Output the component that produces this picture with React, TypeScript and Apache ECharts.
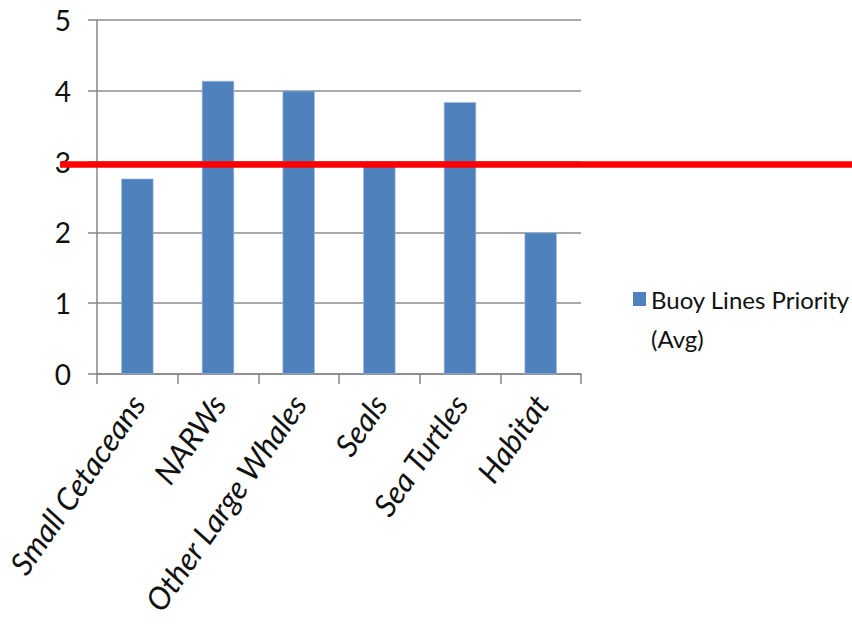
import React, { useEffect, useRef } from "react";
import * as echarts from "echarts";

const categories = ["Small Cetaceans", "NARWs", "Other Large Whales", "Seals", "Sea Turtles", "Habitat"];
const values = [2.76, 4.14, 4.0, 2.95, 3.84, 2.0];
const seriesName = "Buoy Lines Priority (Avg)";
const legendLines = ["Buoy Lines Priority", "(Avg)"];
const thresholdValue = 2.96;
const yTicks = { min: 0, max: 5, interval: 1 };

const FONT = "Lato, 'Open Sans', sans-serif";
const BAR_COLOR = "#4f81bd";

export default function App() {
  const ref = useRef<HTMLDivElement>(null);
  useEffect(() => {
    if (!ref.current) return;
    const chart = echarts.init(ref.current, null, { renderer: "svg" });
    chart.setOption({
      animation: false,
      backgroundColor: "#ffffff",
      grid: {
        left: 97,
        right: 271,
        top: 20,
        bottom: 256,
        containLabel: false,
        outerBoundsMode: "none",
      },
      legend: {
        show: true,
        left: 622,
        top: 282,
        orient: "vertical",
        icon: "rect",
        itemWidth: 0.01,
        itemHeight: 0.01,
        itemStyle: { opacity: 0 },
        formatter: () => `{sq|}{t|${legendLines[0]}}\n{t2|${legendLines[1]}}`,
        textStyle: {
          fontFamily: FONT,
          fontSize: 24,
          color: "#111111",
          rich: {
            sq: { width: 13, height: 14, backgroundColor: BAR_COLOR, padding: 0 },
            t: { fontFamily: FONT, fontSize: 24, color: "#111111", lineHeight: 38, padding: [0, 0, 0, 5] },
            t2: { fontFamily: FONT, fontSize: 24, color: "#111111", lineHeight: 42, padding: [0, 0, 0, 18] },
          },
        },
        data: [seriesName],
      },
      xAxis: {
        type: "category",
        data: categories,
        boundaryGap: true,
        axisLine: { show: true, lineStyle: { color: "#868686", width: 1.5 } },
        axisTick: { show: true, length: 10, lineStyle: { color: "#868686", width: 1.5 } },
        axisLabel: {
          rotate: 55,
          margin: 24,
          interval: 0,
          fontFamily: FONT,
          fontStyle: "italic",
          fontSize: 31,
          color: "#111111",
        },
      },
      yAxis: {
        type: "value",
        min: yTicks.min,
        max: yTicks.max,
        interval: yTicks.interval,
        axisLine: { show: true, lineStyle: { color: "#868686", width: 1.5 } },
        axisTick: { show: true, length: 9, lineStyle: { color: "#868686", width: 1.5 } },
        splitLine: { show: true, lineStyle: { color: "#8c8c8c", width: 1.5 } },
        axisLabel: {
          margin: 26,
          fontFamily: FONT,
          fontSize: 28,
          color: "#111111",
        },
      },
      series: [
        {
          name: seriesName,
          type: "bar",
          data: values,
          barWidth: "40%",
          itemStyle: { color: BAR_COLOR, borderColor: "#a9c0df", borderWidth: 0.6 },
        },
      ],
    });
    const yPix = chart.convertToPixel({ yAxisIndex: 0 }, thresholdValue) as number;
    chart.setOption({
      graphic: [
        {
          type: "line",
          z: 100,
          shape: { x1: 60, y1: yPix, x2: 852, y2: yPix },
          style: { stroke: "#ff0000", lineWidth: 6.5 },
        },
      ],
    });
    return () => chart.dispose();
  }, []);
  return (
    <div
      ref={ref}
      style={{ position: "fixed", left: 0, top: 0, width: 852, height: 630 }}
    />
  );
}
